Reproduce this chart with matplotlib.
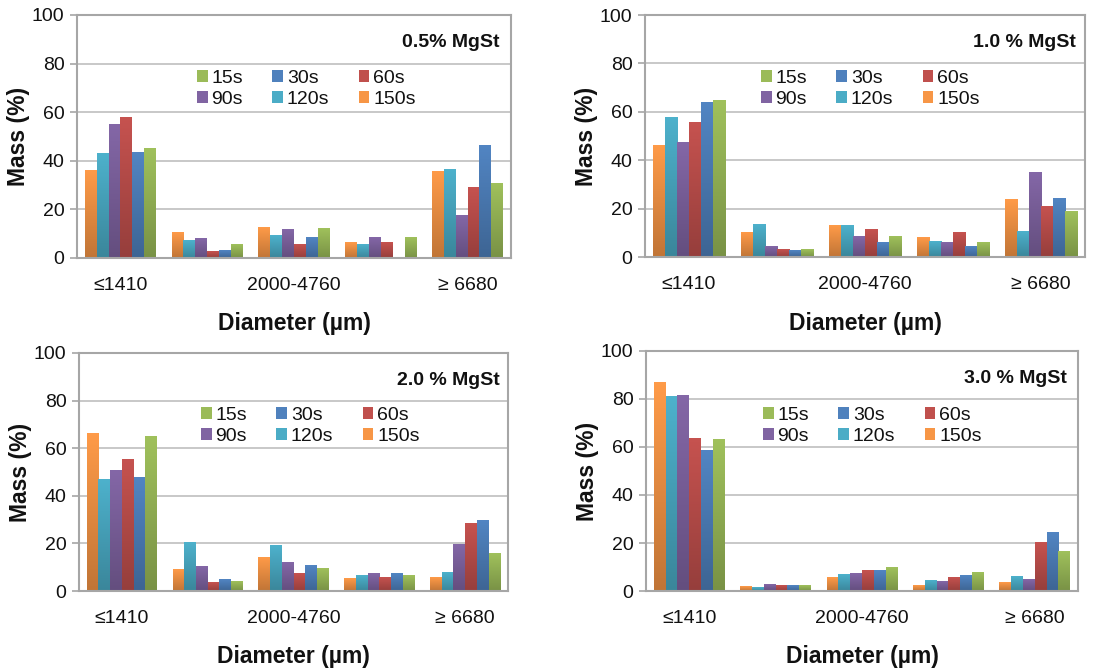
"""Particle size distribution after blending with MgSt, four concentrations."""
import matplotlib
matplotlib.use('Agg')
import matplotlib.pyplot as plt
import matplotlib.colors as mcolors
from matplotlib.patches import Patch
import numpy as np

# --- Data (mass % per sieve fraction) ---
CATEGORIES = ['≤1410', '1410-2000', '2000-4760', '4760-6680', '≥ 6680']
SHOWN_TICKS = ['≤1410', '', '2000-4760', '', '≥ 6680']
TIMES = ['150s', '120s', '90s', '60s', '30s', '15s']   # bar order inside a group
PANEL_TITLES = ['0.5% MgSt', '1.0 % MgSt', '2.0 % MgSt', '3.0 % MgSt']

# rows follow TIMES, columns follow CATEGORIES
mgst_05 = [
    [36.0, 10.5, 12.5, 6.3, 35.5],
    [43.0, 7.0, 9.2, 5.5, 36.3],
    [55.0, 8.0, 11.8, 8.5, 17.5],
    [58.0, 2.5, 5.5, 6.3, 29.0],
    [43.3, 3.0, 8.5, 0.0, 46.5],
    [45.0, 5.5, 12.2, 8.5, 30.5],
]
mgst_10 = [
    [46.0, 10.0, 13.0, 8.0, 23.7],
    [57.5, 13.3, 13.0, 6.3, 10.4],
    [47.3, 4.2, 8.3, 5.8, 34.8],
    [55.4, 3.0, 11.2, 10.3, 20.7],
    [63.7, 2.5, 5.8, 4.5, 24.1],
    [64.6, 3.3, 8.3, 5.8, 18.6],
]
mgst_20 = [
    [66.0, 9.2, 14.2, 5.3, 5.8],
    [46.7, 20.2, 19.1, 6.5, 7.8],
    [50.8, 10.3, 12.1, 7.3, 19.6],
    [55.4, 3.6, 7.4, 5.8, 28.5],
    [47.5, 4.9, 10.8, 7.3, 29.8],
    [64.8, 4.1, 9.5, 6.5, 15.8],
]
mgst_30 = [
    [86.8, 1.9, 5.7, 2.3, 3.6],
    [81.0, 1.4, 7.0, 4.4, 6.1],
    [81.5, 2.8, 7.3, 4.1, 4.9],
    [63.6, 2.3, 8.6, 5.7, 20.3],
    [58.7, 2.3, 8.6, 6.6, 24.5],
    [63.1, 2.3, 9.9, 7.8, 16.6],
]
PANEL_DATA = [mgst_05, mgst_10, mgst_20, mgst_30]

# --- Style ---
TIME_COLOR = {
    '15s': '#9bbb59', '30s': '#4f81bd', '60s': '#c0504d',
    '90s': '#8064a2', '120s': '#4bacc6', '150s': '#f79646',
}
LEGEND_ORDER = ['15s', '90s', '30s', '120s', '60s', '150s']  # fills 3 cols row-wise
INK = '#111111'
GRID = '#bfbfbf'
FRAME = '#a6a6a6'

W, H = 1117, 671
# axes boxes in pixels: left, top, right, bottom
AX_BOX = [(77, 15, 511, 258), (645, 15, 1085, 257),
          (79, 353, 508, 591), (646, 351, 1078, 591)]
# legend top-left (pixels) and title anchor (axes fraction)
LEG_POS = [(197, 70), (761, 70), (201, 407), (763, 407)]
TITLE_POS = [(0.973, 0.885), (0.98, 0.885), (0.98, 0.885), (0.975, 0.885)]

plt.rcParams.update({
    'font.family': ['Liberation Sans', 'DejaVu Sans'],
    'text.color': INK,
    'axes.labelcolor': INK,
    'xtick.color': INK,
    'ytick.color': INK,
})


def gradient_bars(ax, bars, color):
    base = np.array(mcolors.to_rgb(color))
    top = np.clip(base * 1.03, 0, 1)
    bottom = base * 0.78
    grad = np.linspace(0, 1, 64)[:, None, None]
    img = top * (1 - grad) + bottom * grad
    for b in bars:
        h = b.get_height()
        if h <= 0:
            continue
        x0 = b.get_x()
        ax.imshow(img, extent=[x0, x0 + b.get_width(), 0, h],
                  aspect='auto', origin='upper', zorder=3,
                  interpolation='bilinear')
        b.set_visible(False)


fig = plt.figure(figsize=(W / 100, H / 100), dpi=100, facecolor='white')

x = np.arange(len(CATEGORIES))
n = len(TIMES)
group_w = 0.82
bar_w = group_w / n

for p, data in enumerate(PANEL_DATA):
    l, t, r, b = AX_BOX[p]
    ax = fig.add_axes([l / W, 1 - b / H, (r - l) / W, (b - t) / H])

    for i, tm in enumerate(TIMES):
        offs = x - group_w / 2 + bar_w * (i + 0.5)
        bars = ax.bar(offs, data[i], width=bar_w, color=TIME_COLOR[tm],
                      linewidth=0, zorder=3)
        gradient_bars(ax, bars, TIME_COLOR[tm])

    ax.set_xlim(-0.5, len(CATEGORIES) - 0.5)
    ax.set_ylim(0, 100)
    ax.set_yticks(np.arange(0, 101, 20))
    ax.set_xticks(x)
    ax.set_xticklabels(SHOWN_TICKS)
    ax.tick_params(axis='x', length=0, pad=14, labelsize=14)
    ax.tick_params(axis='y', length=5, width=1.2, color=FRAME,
                   pad=4, labelsize=14)
    ax.yaxis.grid(True, color=GRID, linewidth=1.2, zorder=0)
    ax.set_axisbelow(True)
    for s in ax.spines.values():
        s.set_color(FRAME)
        s.set_linewidth(1.5)
        s.set_zorder(1)
    ax.spines['bottom'].set_zorder(4)

    ax.set_ylabel('Mass (%)', fontsize=16.5, fontweight='bold', labelpad=1)
    ax.set_xlabel('Diameter (µm)', fontsize=16.5, fontweight='bold', labelpad=13)

    tx, ty = TITLE_POS[p]
    ax.text(tx, ty, PANEL_TITLES[p], transform=ax.transAxes, ha='right',
            va='center', fontsize=14, fontweight='bold')

    handles = [Patch(facecolor=TIME_COLOR[k], edgecolor='none')
               for k in LEGEND_ORDER]
    lx, ly = LEG_POS[p]
    ax.legend(handles, LEGEND_ORDER, ncol=3, frameon=False, fontsize=14,
              loc='upper left', bbox_to_anchor=(lx / W, 1 - ly / H),
              bbox_transform=fig.transFigure, borderpad=0, borderaxespad=0,
              handlelength=0.55, handleheight=0.6, handletextpad=0.2,
              columnspacing=1.5, labelspacing=0.2)

fig.savefig('out.png', dpi=100, facecolor='white')
plt.close(fig)
